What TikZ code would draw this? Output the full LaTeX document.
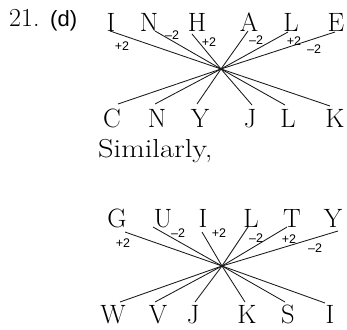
\documentclass[tikz,border=0pt]{standalone}
\usepackage{fontspec}
\usepackage{graphicx}
\newfontfamily\lblfont{Liberation Sans}
\begin{document}
\begin{tikzpicture}[x=1pt,y=-1pt,
  letter/.style={inner sep=0pt,anchor=base,font=\fontsize{26.5}{30}\selectfont},
  lbl/.style={inner sep=0pt,font=\lblfont\fontsize{12.5}{14}\selectfont},
  wire/.style={line width=0.85pt,black!90}]
\useasboundingbox (0,0) rectangle (347,329);
% heading
\node[inner sep=0pt,anchor=base west,font=\fontsize{26}{30}\selectfont] (num) at (9,27) {21.};
\node[inner sep=0pt,anchor=base west,font=\lblfont\fontsize{22}{26}\selectfont] (opt) at (50,27) {(d)};
% ---------- upper diagram ----------
\foreach \n/\t/\x in {a1/I/111,a2/N/149,a3/H/197,a4/A/249,a5/L/291,a6/E/336}
  \node[letter] (\n) at (\x,31) {\t};
\foreach \n/\t/\x in {b1/C/112,b2/N/157,b3/Y/200,b4/J/250,b5/L/288,b6/K/335}
  \node[letter] (\n) at (\x,127) {\t};
\coordinate (X1) at (221,69);
\coordinate (ta1) at (110,31);
\coordinate (ta2) at (155,31);
\coordinate (ta3) at (192,34);
\coordinate (ta4) at (248,31);
\coordinate (ta5) at (288,32);
\coordinate (ta6) at (335,32);
\coordinate (tb1) at (118,104);
\coordinate (tb2) at (155,104);
\coordinate (tb3) at (197,104);
\coordinate (tb4) at (252,105);
\coordinate (tb5) at (285,105);
\coordinate (tb6) at (330,106);
\foreach \i in {1,...,6} {
  \draw[wire] (ta\i) -- (X1);
  \draw[wire] (X1) -- (tb\i);
}
\node[lbl] (la1) at (122,46) {+2};
\node[lbl] (la2) at (172,35) {–2};
\node[lbl] (la3) at (209,42) {+2};
\node[lbl] (la4) at (256,40) {–2};
\node[lbl] (la5) at (294,41) {+2};
\node[lbl] (la6) at (314,49) {–2};
% ---------- Similarly ----------
\node[inner sep=0pt,anchor=base west,font=\fontsize{26}{30}\selectfont] (sim) at (98,157) {\scalebox{1.17}[1]{Similarly,}};
% ---------- lower diagram ----------
\foreach \n/\t/\x in {c1/G/117,c2/U/163,c3/I/203,c4/L/251,c5/T/292,c6/Y/333}
  \node[letter] (\n) at (\x,227) {\t};
\foreach \n/\t/\x in {d1/W/113,d2/V/158,d3/J/193,d4/K/247,d5/S/288,d6/I/330}
  \node[letter] (\n) at (\x,323) {\t};
\coordinate (X2) at (222,266);
\coordinate (tc1) at (125,232);
\coordinate (tc2) at (153,227);
\coordinate (tc3) at (202,232);
\coordinate (tc4) at (248,227);
\coordinate (tc5) at (287,227);
\coordinate (tc6) at (338,231);
\coordinate (td1) at (120,302);
\coordinate (td2) at (155,302);
\coordinate (td3) at (195,302);
\coordinate (td4) at (245,302);
\coordinate (td5) at (285,302);
\coordinate (td6) at (325,303);
\foreach \i in {1,...,6} {
  \draw[wire] (tc\i) -- (X2);
  \draw[wire] (X2) -- (td\i);
}
\node[lbl] (lc1) at (123,243) {+2};
\node[lbl] (lc2) at (178,233) {–2};
\node[lbl] (lc3) at (219,233) {+2};
\node[lbl] (lc4) at (256,238) {–2};
\node[lbl] (lc5) at (289,239) {+2};
\node[lbl] (lc6) at (315,248) {–2};
\end{tikzpicture}
\end{document}
